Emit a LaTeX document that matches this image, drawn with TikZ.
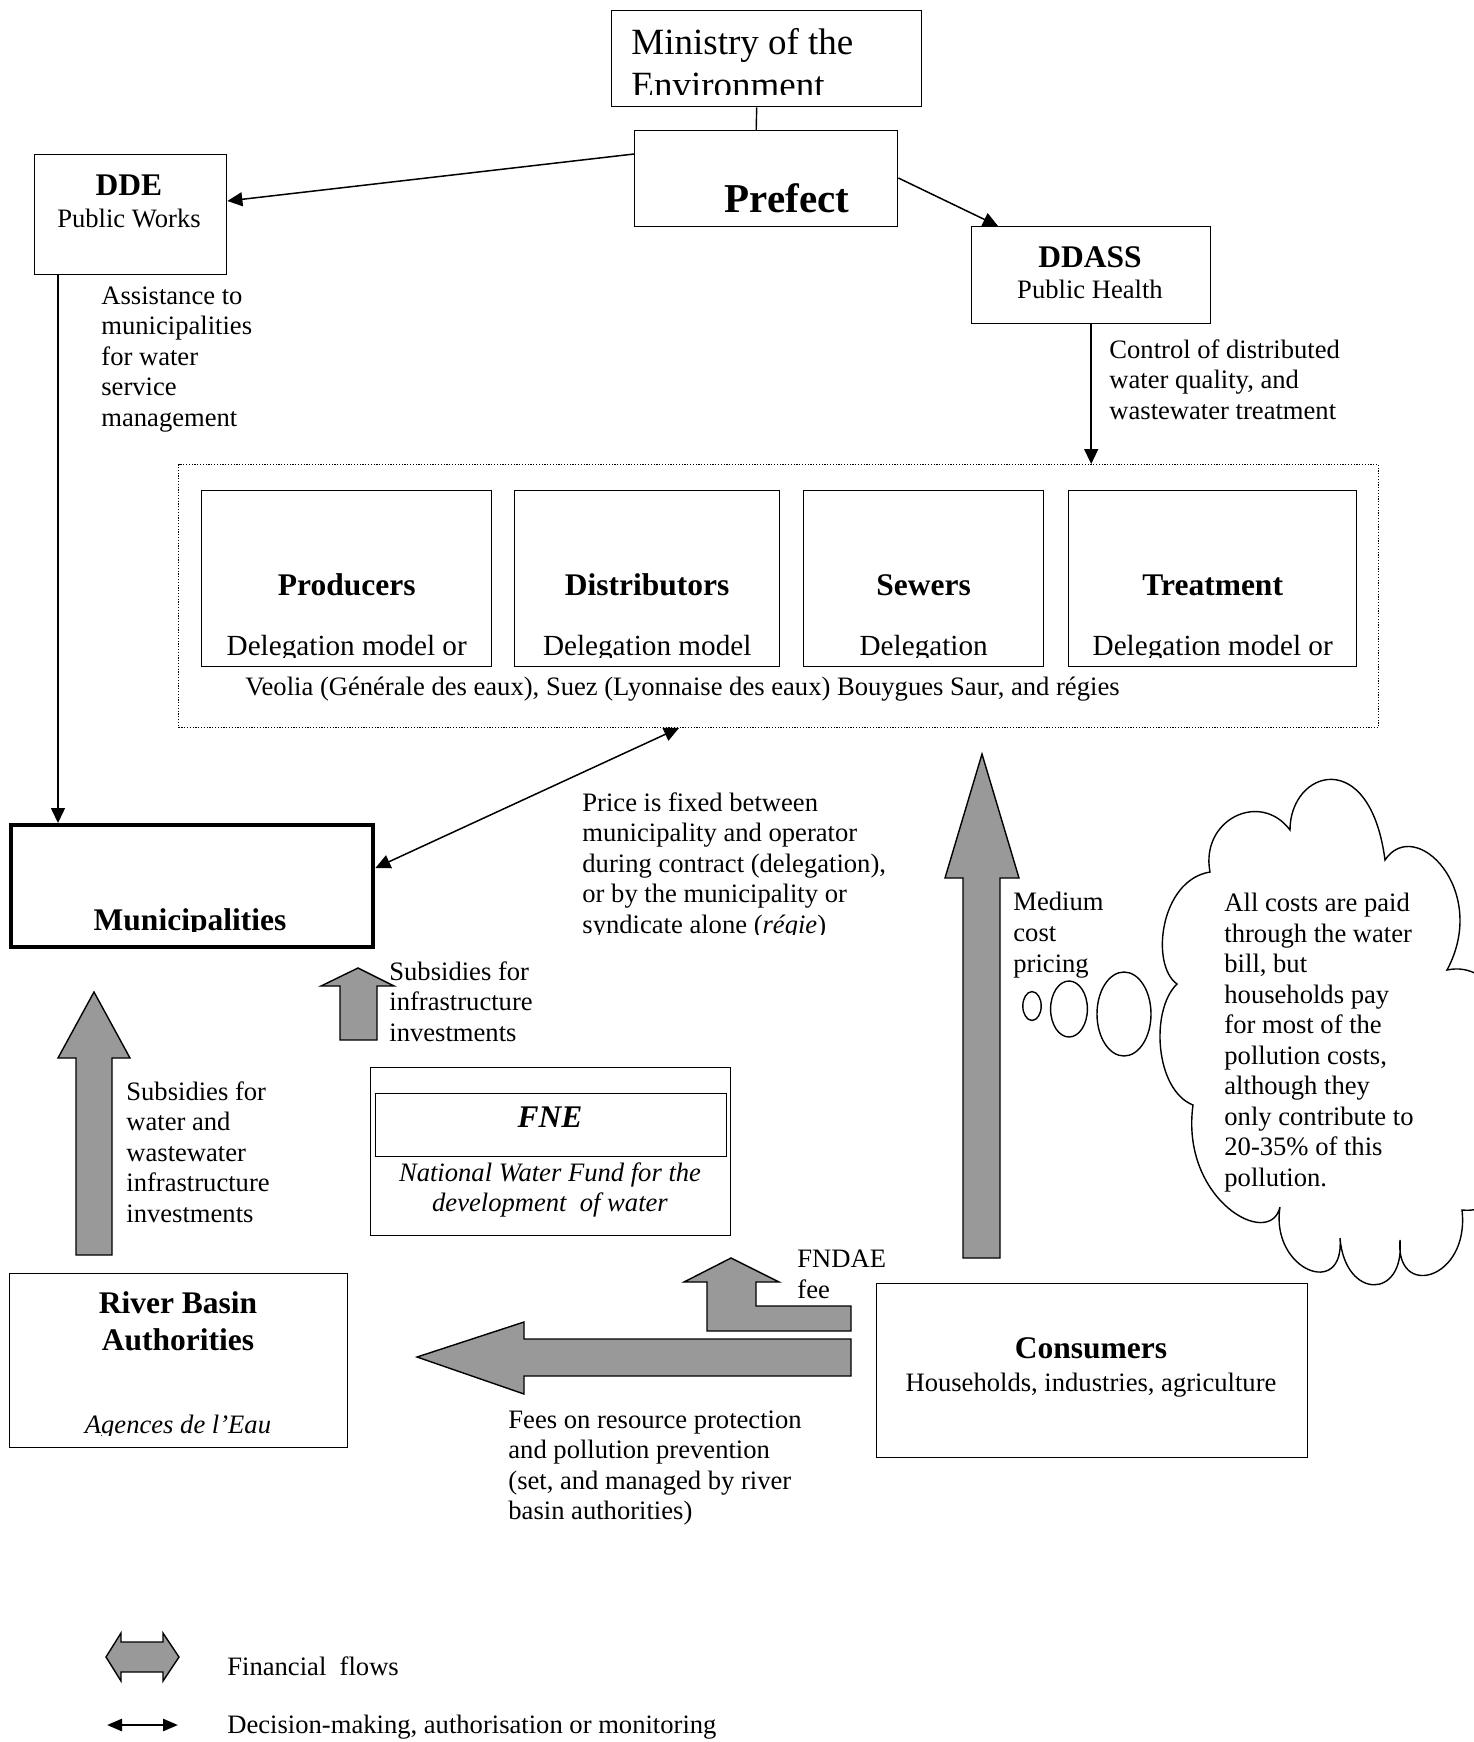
\documentclass[tikz,border=0pt]{standalone}
\usepackage{fontspec}
\setmainfont{Liberation Serif}
\usetikzlibrary{arrows.meta,calc}

\definecolor{flowgray}{RGB}{153,153,153}

\tikzset{
  box/.style={draw, line width=0.7pt, inner sep=0pt, anchor=north west},
  lbl/.style={inner sep=0pt, font=\fontsize{13.3}{15.3}\selectfont, align=left, anchor=north west},
  ttl/.style={inner sep=0pt, font=\fontsize{15.75}{18}\selectfont\bfseries, anchor=base},
  sub/.style={inner sep=0pt, font=\fontsize{13.3}{15.3}\selectfont, anchor=base},
  dlg/.style={inner sep=0pt, font=\fontsize{14.6}{17}\selectfont, anchor=base},
  link/.style={line width=0.75pt, -{Triangle[length=7.5pt,width=7pt]}},
  twolink/.style={line width=0.75pt, {Triangle[length=7.5pt,width=7pt]}-{Triangle[length=7.5pt,width=7pt]}},
  flow/.style={draw, line width=0.7pt, fill=flowgray, line join=miter},
  bubble/.style={draw, line width=0.7pt},
}

\begin{document}
\begin{tikzpicture}[x=0.5pt,y=-0.5pt]
\useasboundingbox (0,0) rectangle (1474,1742);
\fill[white] (0,0) rectangle (1474,1742);

% ---- administration ----
\node[box, minimum width=155pt, minimum height=48pt] (ministry) at (611,10) {};
\begin{scope}
  \clip (611,10) rectangle (921,94);
  \node[lbl, font=\fontsize{18.5}{21.5}\selectfont] (ministrytxt) at (631,28) {Ministry of the\\Environment};
\end{scope}

\node[box, minimum width=131.5pt, minimum height=48pt] (prefect) at (634,130) {};
\node[inner sep=0pt, anchor=base, font=\fontsize{20.5}{24}\selectfont\bfseries] (prefecttxt) at (787,212) {Prefect};

\node[box, minimum width=96pt, minimum height=60pt] (dde) at (34,154) {};
\node[ttl] (ddetxt) at (129,195) {DDE};
\node[sub] (ddesub) at (129,227) {Public Works};

\node[box, minimum width=119.5pt, minimum height=48.5pt] (ddass) at (971,226) {};
\node[ttl] (ddasstxt) at (1090,267) {DDASS};
\node[sub] (ddasssub) at (1090,298) {Public Health};

\draw[line width=0.7pt] ($(ministry.south)+(-10,0)$) -- ($(prefect.north)+(-10,0)$);
\draw[link] ($(prefect.north west)+(0,24)$) -- ($(dde.north east)+(0,47)$);
\draw[link] ($(prefect.north east)+(0,48)$) -- ($(ddass.north west)+(27,0)$);

\node[lbl] (ddelbl) at (101,286) {Assistance to\\municipalities\\for water\\service\\management};
\node[lbl] (ddasslbl) at (1109,339) {Control of distributed\\water quality, and\\wastewater treatment};

% ---- operators ----
\node[box, line width=0.5pt, dash pattern=on 0.6pt off 0.8pt, minimum width=600pt, minimum height=131.5pt] (ops) at (178,464) {};
\node[box, minimum width=145pt, minimum height=88pt] (producers) at (201,490) {};
\node[box, minimum width=132.5pt, minimum height=88pt] (distributors) at (514,490) {};
\node[box, minimum width=120pt, minimum height=88pt] (sewers) at (803,490) {};
\node[box, minimum width=144pt, minimum height=88pt] (treatment) at (1068,490) {};

\node[ttl] (prodtxt) at (producers.center |- 0,595) {Producers};
\node[ttl] (disttxt) at (distributors.center |- 0,595) {Distributors};
\node[ttl] (sewtxt) at (sewers.center |- 0,595) {Sewers};
\node[ttl] (treattxt) at (treatment.center |- 0,595) {Treatment};
\begin{scope}
  \clip (178,600) rectangle (1380,657);
  \node[dlg] (proddlg) at (producers.center |- 0,655) {Delegation model or};
  \node[dlg] (distdlg) at (distributors.center |- 0,655) {Delegation model};
  \node[dlg] (sewdlg) at (sewers.center |- 0,655) {Delegation};
  \node[dlg] (treatdlg) at (treatment.center |- 0,655) {Delegation model or};
\end{scope}
\node[sub, anchor=base west] (opnames) at (245,695) {Veolia (Générale des eaux), Suez (Lyonnaise des eaux) Bouygues Saur, and régies};

\draw[link] (ddass.south) -- (ddass.south |- ops.north);

% ---- municipalities ----
\node[box, line width=2.2pt, minimum width=181pt, minimum height=61pt] (muni) at (9,823) {};
\begin{scope}
  \clip (20,880) rectangle (360,931);
  \node[ttl] (munitxt) at (190,930) {Municipalities};
\end{scope}

\draw[link] ($(dde.south west)+(24,0)$) -- ($(muni.north west)+(49,0)$);
\draw[twolink] ($(muni.north east)+(0,45)$) -- ($(ops.south west)+(501,0)$);

\begin{scope}
  \clip (570,780) rectangle (900,934);
  \node[lbl, font=\fontsize{13.3}{15.25}\selectfont] (pricelbl) at (582,792) {Price is fixed between\\municipality and operator\\during contract (delegation),\\or by the municipality or\\syndicate alone (\textit{régie})};
\end{scope}

% ---- funds ----
\node[box, minimum width=180pt, minimum height=84pt] (fne) at (370,1067) {};
\node[box, minimum width=175.5pt, minimum height=31.5pt] (fneinner) at (374.5,1093) {};
\node[ttl, font=\fontsize{15.75}{18}\selectfont\bfseries\itshape] (fnetxt) at (550,1127) {FNE};
\node[inner sep=0pt, anchor=north, align=center, font=\fontsize{13.3}{15}\selectfont\itshape] (fnedesc) at (550,1162) {National Water Fund for the\\development\ \ of water};

\node[box, minimum width=169pt, minimum height=87pt] (river) at (9,1273) {};
\node[ttl] (rivertxt) at (178,1313) {River Basin};
\node[ttl] (rivertxtb) at (178,1350) {Authorities};
\begin{scope}
  \clip (20,1400) rectangle (340,1435);
  \node[sub, font=\fontsize{13.3}{15.3}\selectfont\itshape] (riversub) at (178,1433) {Agences de l’Eau};
\end{scope}

\node[box, minimum width=215.5pt, minimum height=87pt] (consumers) at (876,1283) {};
\node[ttl] (constxt) at (1091,1358) {Consumers};
\node[sub] (conssub) at (1091,1391) {Households, industries, agriculture};

% ---- financial flows ----
\draw[flow] (340,1040) -- (340,986) -- (321,986) -- (358,968) -- (394,986) -- (377,986) -- (377,1040) -- cycle;
\node[lbl] (subsinfra) at (389,961) {Subsidies for\\infrastructure\\investments};

\draw[flow] (76,1255) -- (76,1058) -- (58,1058) -- (94,992) -- (130,1058) -- (112,1058) -- (112,1255) -- cycle;
\node[lbl] (subswater) at (126,1081) {Subsidies for\\water and\\wastewater\\infrastructure\\investments};

\draw[flow] (963,1258) -- (963,878) -- (945,878) -- (982,754) -- (1019,878) -- (1000,878) -- (1000,1258) -- cycle;
\node[lbl] (medium) at (1013,892) {Medium\\cost\\pricing};

\draw[flow] (851,1306) -- (756,1306) -- (756,1282) -- (779,1282) -- (731,1258) -- (684,1282) -- (707,1282) -- (707,1331) -- (851,1331) -- cycle;
\node[lbl, font=\fontsize{13.3}{15.5}\selectfont] (fndae) at (797,1250) {FNDAE\\fee};

\draw[flow] (851,1339) -- (524,1339) -- (524,1322) -- (417,1357) -- (524,1394) -- (524,1376) -- (851,1376) -- cycle;
\node[lbl] (fees) at (508,1410) {Fees on resource protection\\and pollution prevention\\(set, and managed by river\\basin authorities)};

% ---- thought cloud ----
\draw[bubble] (1032,1006) ellipse [x radius=4.6pt, y radius=7.2pt];
\draw[bubble] (1069,1009) ellipse [x radius=9.2pt, y radius=14pt];
\draw[bubble] (1124,1014) ellipse [x radius=13.5pt, y radius=21pt];
\draw[bubble, line join=miter]
  (1177,984)
  .. controls (1150,965)  and (1160,880)  .. (1210,872)
  .. controls (1200,820)  and (1260,790)  .. (1290,830)
  .. controls (1290,770)  and (1370,745)  .. (1385,860)
  .. controls (1415,815)  and (1490,890)  .. (1447,970)
  .. controls (1540,950)  and (1560,1220) .. (1462,1210)
  .. controls (1470,1280) and (1395,1300) .. (1400,1240)
  .. controls (1405,1300) and (1345,1300) .. (1340,1238)
  .. controls (1345,1300) and (1270,1270) .. (1280,1207)
  .. controls (1270,1250) and (1180,1200) .. (1193,1105)
  .. controls (1155,1090) and (1150,1010) .. cycle;
\node[lbl, font=\fontsize{13.3}{15.25}\selectfont] (cloudtxt) at (1224,893) {All costs are paid\\through the water\\bill, but\\households pay\\for most of the\\pollution costs,\\although they\\only contribute to\\20-35\% of this\\pollution.};

% ---- legend ----
\draw[flow] (106,1657) -- (121,1633) -- (121,1642) -- (163,1642) -- (163,1633) -- (179,1657) -- (163,1681) -- (163,1672) -- (121,1672) -- (121,1681) -- cycle;
\node[sub, anchor=base west] (legfin) at (227,1675) {Financial\ \ flows};
\coordinate (legl) at (107,1725);
\coordinate (legr) at (178,1725);
\draw[line width=1.3pt, {Triangle[length=7.5pt,width=6pt]}-{Triangle[length=7.5pt,width=6pt]}] (legl) -- (legr);
\node[sub, anchor=base west] (legdec) at (227,1733) {Decision-making, authorisation or monitoring};
\end{tikzpicture}
\end{document}
